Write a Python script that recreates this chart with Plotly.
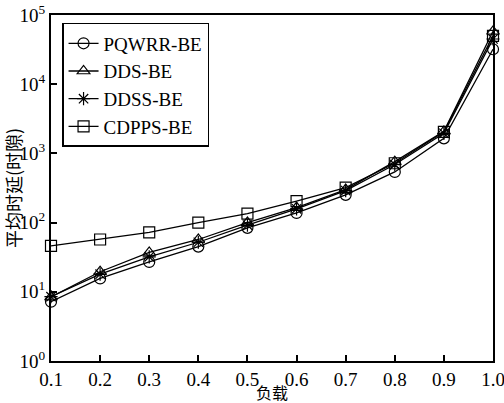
import plotly.graph_objects as go

# Load levels and mean delay (in time slots) for each scheduler
load = [0.1, 0.2, 0.3, 0.4, 0.5, 0.6, 0.7, 0.8, 0.9, 1.0]
pqwrr_be = [7.2, 15.6, 27, 45, 84, 138, 252, 540, 1650, 32000]
dds_be = [8.4, 19.5, 37, 57, 100, 165, 300, 760, 2080, 58000]
ddss_be = [8.5, 18, 32, 52, 92, 158, 290, 690, 1950, 45000]
cdpps_be = [46, 57, 72, 100, 135, 205, 320, 720, 2050, 50000]

y_tickvals = [1, 10, 100, 1000, 10000, 100000]
y_ticktext = ["10<sup>0</sup>", "10<sup>1</sup>", "10<sup>2</sup>",
              "10<sup>3</sup>", "10<sup>4</sup>", "10<sup>5</sup>"]

series = [
    ("PQWRR-BE", pqwrr_be, "circle-open"),
    ("DDS-BE", dds_be, "triangle-up-open"),
    ("DDSS-BE", ddss_be, "asterisk-open"),
    ("CDPPS-BE", cdpps_be, "square-open"),
]

fig = go.Figure()
for name, vals, sym in series:
    fig.add_trace(go.Scatter(
        x=load, y=vals, name=name, mode="lines+markers",
        line=dict(color="black", width=1.3),
        marker=dict(symbol=sym, size=11, color="black",
                    line=dict(color="black", width=1.2)),
        cliponaxis=False,
    ))

serif = "Liberation Serif, Times New Roman, serif"
cjk = "Noto Sans CJK SC"

fig.update_layout(
    width=504, height=403,
    margin=dict(l=51, r=11, t=15, b=42),
    paper_bgcolor="white", plot_bgcolor="white",
    showlegend=True,
    legend=dict(
        x=0.025, y=0.977, xanchor="left", yanchor="top",
        bgcolor="white", bordercolor="black", borderwidth=1.5,
        font=dict(family=serif, size=19, color="black"),
        tracegroupgap=0, itemwidth=30,
    ),
    xaxis=dict(
        range=[0.1, 1.0], tickvals=load, tickformat=".1f",
        ticks="inside", ticklen=6, tickwidth=1.5, tickcolor="black",
        showline=True, linecolor="black", linewidth=2, mirror=True,
        showgrid=False, zeroline=False, automargin=False,
        ticklabeloverflow="allow",
        tickfont=dict(family=serif, size=19, color="black"),
    ),
    yaxis=dict(
        type="log", range=[0, 5], tickvals=y_tickvals, ticktext=y_ticktext,
        ticks="inside", ticklen=6, tickwidth=1.5, tickcolor="black",
        showline=True, linecolor="black", linewidth=2, mirror=True,
        showgrid=False, zeroline=False, automargin=False,
        tickfont=dict(family=serif, size=19, color="black"),
        title=dict(text="平均时延(时隙)", font=dict(family=cjk, size=18, color="black"),
                   standoff=2),
    ),
    annotations=[dict(
        text="负载", xref="paper", yref="paper", x=0.5, y=-0.091,
        xanchor="center", yanchor="middle", showarrow=False, borderpad=0,
        font=dict(family=cjk, size=16, color="black"),
    )],
)

fig.write_html("out.html")
